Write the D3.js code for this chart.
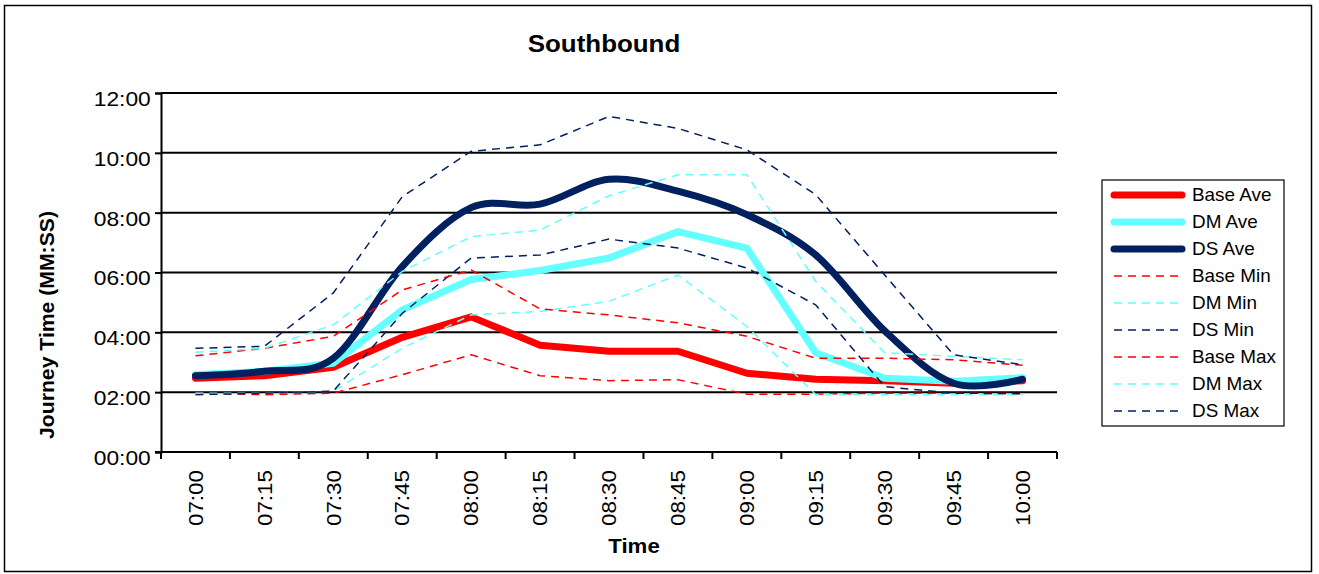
<!DOCTYPE html>
<html>
<head>
<meta charset="utf-8">
<script src="https://cdn.jsdelivr.net/npm/d3@7"></script>
<style>
  html, body { margin: 0; padding: 0; background: #fff; }
  svg { display: block; font-family: "Liberation Sans", Arial, sans-serif; }
</style>
</head>
<body>
<svg id="chart" width="1319" height="574"></svg>
<script>
// Time periods (15-minute intervals)
const times = ["07:00","07:15","07:30","07:45","08:00","08:15","08:30","08:45","09:00","09:15","09:30","09:45","10:00"];

// Journey times, MM:SS
const baseAve = ["02:28","02:33","02:50","03:50","04:31","03:34","03:22","03:22","02:38","02:26","02:23","02:18","02:23"];
const dmAve   = ["02:35","02:42","02:58","04:45","05:46","06:04","06:29","07:22","06:49","03:19","02:28","02:22","02:29"];
const dsAve   = ["02:33","02:42","03:08","06:12","08:10","08:17","09:07","08:43","07:56","06:35","04:03","02:18","02:26"];
const baseMin = ["01:58","01:55","01:58","02:35","03:15","02:33","02:23","02:25","01:56","01:56","01:58","01:58","01:57"];
const dmMin   = ["01:58","01:58","02:02","03:28","04:35","04:42","05:02","05:55","04:12","01:55","01:55","01:55","01:55"];
const dsMin   = ["01:55","01:58","02:02","04:38","06:29","06:35","07:07","06:49","06:09","04:55","02:11","01:58","01:57"];
const baseMax = ["03:13","03:28","03:52","05:25","06:05","04:47","04:35","04:19","03:52","03:08","03:08","03:05","02:54"];
const dmMax   = ["03:20","03:28","04:15","06:02","07:12","07:25","08:34","09:16","09:16","05:42","03:19","03:12","03:05"];
const dsMax   = ["03:28","03:32","05:19","08:32","10:03","10:16","11:13","10:49","10:06","08:36","05:55","03:15","02:55"];

// Y axis ticks in minutes
const yTicks = [0, 2, 4, 6, 8, 10, 12];

const RED = "#ff0000", CYAN = "#66ffff", NAVY = "#002060";

const series = [
  { name: "Base Ave", values: baseAve, color: RED,  width: 7,   dash: null, smooth: false },
  { name: "DM Ave",   values: dmAve,   color: CYAN, width: 7,   dash: null, smooth: false },
  { name: "DS Ave",   values: dsAve,   color: NAVY, width: 7,   dash: null, smooth: true  },
  { name: "Base Min", values: baseMin, color: RED,  width: 1.5, dash: "8,6", smooth: false },
  { name: "DM Min",   values: dmMin,   color: CYAN, width: 1.5, dash: "8,6", smooth: false },
  { name: "DS Min",   values: dsMin,   color: NAVY, width: 1.5, dash: "8,6", smooth: false },
  { name: "Base Max", values: baseMax, color: RED,  width: 1.5, dash: "8,6", smooth: false },
  { name: "DM Max",   values: dmMax,   color: CYAN, width: 1.5, dash: "8,6", smooth: false },
  { name: "DS Max",   values: dsMax,   color: NAVY, width: 1.5, dash: "8,6", smooth: false }
];

const toMin = s => { const [m, sec] = s.split(":").map(Number); return m + sec / 60; };
const fmt = m => String(Math.floor(m)).padStart(2, "0") + ":" + String(Math.round((m % 1) * 60)).padStart(2, "0");

const svg = d3.select("#chart");
const plot = { left: 161, right: 1057, top: 93, bottom: 452 };

const x = d3.scaleBand().domain(times).range([plot.left, plot.right]).padding(0);
const y = d3.scaleLinear().domain([0, 12]).range([plot.bottom, plot.top]);
const cx = t => x(t) + x.bandwidth() / 2;

// Outer frame
svg.append("rect").attr("x", 4.5).attr("y", 5.5).attr("width", 1307).attr("height", 566)
  .attr("fill", "#fff").attr("stroke", "#000").attr("stroke-width", 1.5);

// Title
svg.append("text").attr("transform", "translate(604,52) scale(1.08,1)").attr("text-anchor", "middle")
  .attr("font-weight", "bold").attr("font-size", 24).text("Southbound");

// Gridlines
svg.append("g").selectAll("line").data(yTicks.filter(d => d > 0)).join("line")
  .attr("x1", plot.left).attr("x2", plot.right)
  .attr("y1", d => y(d)).attr("y2", d => y(d))
  .attr("stroke", "#000").attr("stroke-width", 2);

// Y axis
const yAxis = svg.append("g").attr("transform", `translate(${plot.left},0)`)
  .call(d3.axisLeft(y).tickValues(yTicks).tickFormat(fmt).tickSize(6).tickPadding(3));
yAxis.select(".domain").attr("stroke-width", 2);
yAxis.selectAll(".tick line").attr("stroke-width", 2);
yAxis.selectAll(".tick text").attr("font-size", 20).attr("fill", "#000")
  .attr("font-family", "Liberation Sans, Arial, sans-serif").attr("dy", "0.62em")
  .attr("transform", "scale(1.14,1)");

// X axis: labels at category centres, ticks at category boundaries
const xAxis = svg.append("g").attr("transform", `translate(0,${plot.bottom})`)
  .call(d3.axisBottom(x).tickSize(0).tickPadding(0));
xAxis.select(".domain").remove();
xAxis.selectAll(".tick text")
  .attr("font-size", 20).attr("fill", "#000")
  .attr("font-family", "Liberation Sans, Arial, sans-serif")
  .attr("text-anchor", "end")
  .attr("transform", "translate(0,18) rotate(-90) scale(1.12,1)")
  .attr("x", 0).attr("y", 0).attr("dy", "0.36em");
const edges = times.map(t => x(t)).concat([plot.right]);
svg.append("g").selectAll("line").data(edges).join("line")
  .attr("x1", d => d).attr("x2", d => d)
  .attr("y1", plot.bottom).attr("y2", plot.bottom + 7)
  .attr("stroke", "#000").attr("stroke-width", 2);
svg.append("line").attr("x1", plot.left - 6).attr("x2", plot.right)
  .attr("y1", plot.bottom).attr("y2", plot.bottom)
  .attr("stroke", "#000").attr("stroke-width", 2);

// Axis titles
svg.append("text").attr("transform", "translate(634,553) scale(1.06,1)").attr("text-anchor", "middle")
  .attr("font-weight", "bold").attr("font-size", 21).text("Time");
svg.append("text").attr("transform", "translate(54,325) rotate(-90) scale(1.06,1)")
  .attr("text-anchor", "middle").attr("font-weight", "bold").attr("font-size", 20)
  .text("Journey Time (MM:SS)");

// Series lines
const lineLinear = d3.line().x((d, i) => cx(times[i])).y(d => y(toMin(d)));
const lineSmooth = d3.line().x((d, i) => cx(times[i])).y(d => y(toMin(d))).curve(d3.curveCardinal.tension(0));
svg.append("g").selectAll("path").data(series).join("path")
  .attr("d", s => (s.smooth ? lineSmooth : lineLinear)(s.values))
  .attr("fill", "none").attr("stroke", s => s.color).attr("stroke-width", s => s.width)
  .attr("stroke-dasharray", s => s.dash).attr("stroke-linejoin", "round")
  .attr("stroke-linecap", s => s.dash ? "butt" : "round");

// Legend
const lg = svg.append("g");
lg.append("rect").attr("x", 1102).attr("y", 180).attr("width", 182).attr("height", 246)
  .attr("fill", "#fff").attr("stroke", "#000").attr("stroke-width", 1.2);
const item = lg.selectAll("g.item").data(series).join("g").attr("class", "item")
  .attr("transform", (d, i) => `translate(0,${195 + i * 27})`);
item.append("line").attr("x1", 1114).attr("x2", 1182).attr("y1", 0).attr("y2", 0)
  .attr("stroke", d => d.color).attr("stroke-width", d => d.width)
  .attr("stroke-dasharray", d => d.dash).attr("stroke-linecap", d => d.dash ? "butt" : "round");
item.append("text").attr("transform", "translate(1192,0) scale(1.05,1)").attr("dy", "0.36em")
  .attr("font-size", 18).text(d => d.name);
</script>
</body>
</html>
